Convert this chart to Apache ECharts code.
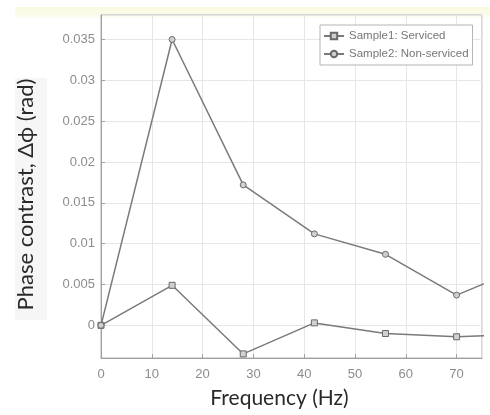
<!DOCTYPE html>
<html>
<head>
<meta charset="utf-8">
<script src="https://cdn.jsdelivr.net/npm/echarts@6/dist/echarts.min.js"></script>
<style>
  html, body { margin: 0; padding: 0; background: #fff; }
  #chart { width: 490px; height: 415px; }
</style>
</head>
<body>
<div id="chart"></div>
<script>
// frequency points (Hz); the last one lies past the axis limit and gets clipped
const freq = [0, 14, 28, 42, 56, 70, 84];
const serviced = [0, 0.0049, -0.0035, 0.0003, -0.0010, -0.0014, -0.0011];
const nonServiced = [0, 0.0350, 0.0172, 0.0112, 0.0087, 0.0037, 0.0073];
const seriesNames = ['Sample1: Serviced', 'Sample2: Non-serviced'];

const lineColor = '#7a7a7a';
const tickColor = '#8c8c8c';

const chart = echarts.init(document.getElementById('chart'));

function pairs(xs, ys) {
	return xs.map((x, i) => [x, ys[i]]);
}

chart.setOption({
	animation: false,
	graphic: [
		{
			type: 'rect',
			shape: { x: 15, y: 7, width: 475, height: 11 },
			style: {
				fill: new echarts.graphic.LinearGradient(0, 0, 0, 1, [
					{ offset: 0, color: '#f9f9df' },
					{ offset: 1, color: '#fdfdf4' }
				])
			},
			z: -10
		},
		{
			type: 'rect',
			shape: { x: 15, y: 78, width: 32, height: 242 },
			style: { fill: '#f6f6f6' },
			z: -10
		}
	],
	grid: {
		left: 101,
		top: 15,
		right: 8,
		bottom: 57,
		show: true,
		borderColor: '#b0b0b0',
		borderWidth: 1
	},
	legend: {
		orient: 'vertical',
		left: 320,
		top: 25,
		data: seriesNames,
		itemWidth: 20,
		itemHeight: 8,
		itemGap: 6,
		padding: [5, 4, 5, 3],
		borderColor: '#b5b5b5',
		borderWidth: 1,
		backgroundColor: '#fff',
		textStyle: {
			color: '#777',
			fontSize: 11.5,
			fontFamily: 'Liberation Sans'
		}
	},
	xAxis: {
		type: 'value',
		min: 0,
		max: 75,
		interval: 10,
		name: 'Frequency (Hz)',
		nameLocation: 'middle',
		nameGap: 30,
		nameTextStyle: {
			color: '#2a2a2a',
			fontSize: 21,
			fontFamily: 'Lato',
			padding: [0, 24, 0, 0]
		},
		axisLine: { onZero: false, lineStyle: { color: '#a0a0a0' } },
		axisTick: { inside: true, length: 4, lineStyle: { color: '#a0a0a0' } },
		axisLabel: {
			color: tickColor,
			fontSize: 13,
			fontFamily: 'Liberation Sans',
			margin: 10,
			showMaxLabel: false
		},
		splitLine: { lineStyle: { color: '#e6e6e6' } }
	},
	yAxis: {
		type: 'value',
		min: -0.004,
		max: 0.038,
		splitNumber: 8,
		name: 'Phase contrast, Δϕ (rad)',
		nameLocation: 'middle',
		nameGap: 64,
		nameTextStyle: {
			color: '#2a2a2a',
			fontSize: 22,
			fontFamily: 'Lato',
			padding: [0, 16, 0, 0]
		},
		axisLine: { show: true, onZero: false, lineStyle: { color: '#a0a0a0' } },
		axisTick: { show: true, inside: true, length: 4, lineStyle: { color: '#a0a0a0' } },
		axisLabel: {
			color: tickColor,
			fontSize: 13,
			fontFamily: 'Liberation Sans',
			margin: 6,
			showMinLabel: false,
			showMaxLabel: false,
			formatter: v => String(+v.toFixed(3))
		},
		splitLine: { lineStyle: { color: '#e6e6e6' } }
	},
	series: [
		{
			name: seriesNames[0],
			type: 'line',
			data: pairs(freq, serviced),
			clip: true,
			symbol: 'rect',
			symbolSize: 6,
			color: lineColor,
			lineStyle: { color: lineColor, width: 1.5 },
			itemStyle: { color: '#d0d0d0', borderColor: '#6a6a6a', borderWidth: 1 }
		},
		{
			name: seriesNames[1],
			type: 'line',
			data: pairs(freq, nonServiced),
			clip: true,
			symbol: 'circle',
			symbolSize: 6,
			color: lineColor,
			lineStyle: { color: lineColor, width: 1.5 },
			itemStyle: { color: '#d0d0d0', borderColor: '#6a6a6a', borderWidth: 1 }
		}
	]
});
</script>
</body>
</html>
